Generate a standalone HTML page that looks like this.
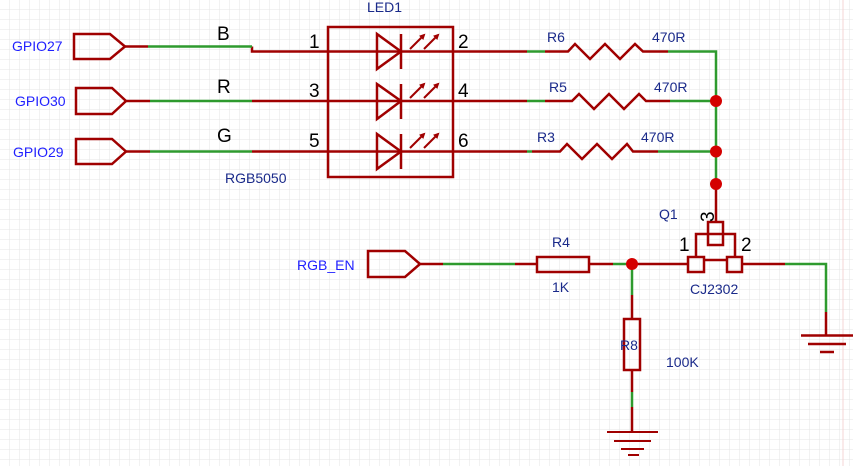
<!DOCTYPE html>
<html><head><meta charset="utf-8"><style>body{margin:0;background:#fff}svg{display:block}</style></head><body>
<svg width="853" height="466" viewBox="0 0 853 466" xmlns="http://www.w3.org/2000/svg" font-family="Liberation Sans, sans-serif">
<defs><pattern id="g" width="10" height="10" patternUnits="userSpaceOnUse"><path d="M10 0V10M0 10H10" stroke="#e6e6e6" stroke-width="1" fill="none"/></pattern>
<marker id="ah" markerWidth="6" markerHeight="6" refX="4" refY="3" orient="auto" markerUnits="userSpaceOnUse"><path d="M0 0L6 3L0 6Z" fill="#a00000"/></marker></defs>
<rect width="853" height="466" fill="#fff"/>
<rect width="853" height="466" fill="url(#g)"/>
<line x1="843" y1="0" x2="843" y2="466" stroke="#f4d4d4"/>
<g fill="none" stroke="#a00000" stroke-width="2.5">
<path d="M74 34H110L125 46.5L110 59H74Z"/>
<path d="M76 88H112L126 101L112 114H76Z"/>
<path d="M76 139H112L126 151.5L112 164H76Z"/>
<path d="M368 251H405L420 264L405 277H368Z"/>
<path d="M125 46.5H148M252 46.5V51.5H328M126 101H150M252 101H328M126 151.5H150M252 151.5H328"/>
<rect x="328" y="27" width="125" height="150"/>
<path d="M328 51.5H453M328 101H453M328 151.5H453"/>
<path d="M377 34V69L401 51.5Z M401 34V69"/>
<path d="M377 84V119L401 101Z M401 84V119"/>
<path d="M377 134V169L401 151.5Z M401 134V169"/>
<g stroke-width="2" marker-end="url(#ah)">
<path d="M410 49L424 35"/><path d="M424 49L438 35"/>
<path d="M410 98L424 84"/><path d="M424 98L438 84"/>
<path d="M410 148L424 134"/><path d="M424 148L438 134"/>
</g>
<path d="M453 51.5H527M545 51.5H568L575 44L590 59L605 44L620 59L635 44L643 51.5H668"/>
<path d="M453 101H527M545 101H572L579 94L594 109L609 94L624 109L639 94L646 101H670"/>
<path d="M453 151.5H527M532 151.5H560L567 144L582 159L597 144L612 159L627 144L633 151.5H658"/>
<path d="M716 184V222"/>
<rect x="708" y="222" width="15" height="23"/>
<path d="M696 257V234H735V257M704 260H727"/>
<rect x="688" y="257" width="16" height="15"/>
<rect x="727" y="257" width="15" height="15"/>
<path d="M420 264H443M515 264H537M589 264H613M632 264H688M742 264H785"/>
<rect x="537" y="257" width="52" height="15"/>
<path d="M826 312V335M801 335.5H853M808 344H846M820 352H834"/>
<path d="M632 295V319M632 370V392M632 407V432"/>
<rect x="624" y="319" width="16" height="51"/>
<path d="M607 432H658M614 441H651M621 449H644M628 455H639" stroke-width="2"/>
</g>
<g fill="none" stroke="#2e9a2e" stroke-width="2.5">
<path d="M148 46.5H252M150 101H252M150 151.5H252"/>
<path d="M527 51.5H545M668 51.5H716V184M527 101H545M670 101H716M527 151.5H532M658 151.5H716"/>
<path d="M443 264H515M613 264H632M632 264V295M632 392V407M785 264H826V312"/>
</g>
<g fill="#d40000"><circle cx="716" cy="101" r="6"/><circle cx="716" cy="151.5" r="6"/><circle cx="716" cy="184" r="6"/><circle cx="632" cy="264" r="6"/></g>
<g fill="#1f1fff" font-size="14"><text x="12" y="51">GPIO27</text><text x="15" y="106">GPIO30</text><text x="13" y="157">GPIO29</text><text x="297" y="270">RGB_EN</text></g>
<g fill="#000" font-size="19"><text x="217" y="40">B</text><text x="217" y="93">R</text><text x="217" y="142">G</text>
<text x="309" y="48">1</text><text x="309" y="97">3</text><text x="309" y="147">5</text>
<text x="458" y="48">2</text><text x="458" y="97">4</text><text x="458" y="147">6</text>
<text x="679" y="251">1</text><text x="741" y="251">2</text><text transform="translate(714,222) rotate(-90)">3</text></g>
<g fill="#1a2a8a" font-size="14"><text x="367" y="12">LED1</text><text x="225" y="183">RGB5050</text>
<text x="547" y="42">R6</text><text x="652" y="42">470R</text><text x="549" y="92">R5</text><text x="654" y="92">470R</text>
<text x="537" y="142">R3</text><text x="641" y="142">470R</text>
<text x="659" y="219">Q1</text><text x="690" y="294">CJ2302</text>
<text x="552" y="247">R4</text><text x="552" y="292">1K</text>
<text x="620" y="350">R8</text><text x="666" y="367">100K</text></g>
</svg>
</body></html>
